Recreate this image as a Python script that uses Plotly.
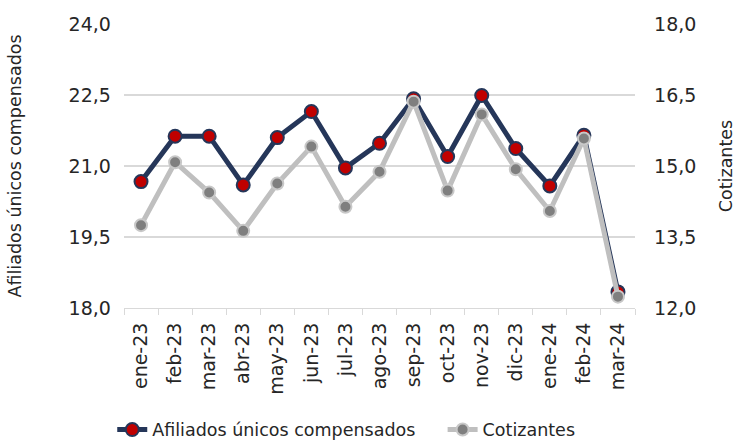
import plotly.graph_objects as go

meses = ['ene-23', 'feb-23', 'mar-23', 'abr-23', 'may-23', 'jun-23', 'jul-23', 'ago-23',
         'sep-23', 'oct-23', 'nov-23', 'dic-23', 'ene-24', 'feb-24', 'mar-24']
afiliados = [20.67, 21.63, 21.63, 20.60, 21.60, 22.15, 20.96, 21.48,
             22.42, 21.20, 22.49, 21.37, 20.58, 21.65, 18.34]
cotizantes = [13.75, 15.08, 14.44, 13.63, 14.63, 15.41, 14.14, 14.88,
              16.36, 14.48, 16.09, 14.93, 14.05, 15.58, 12.24]

font_fam = 'DejaVu Sans, Verdana, sans-serif'
gap = '\u00a0' * 4  # extra room between the two legend entries

fig = go.Figure()

fig.add_trace(go.Scatter(
    x=meses, y=afiliados,
    name='Afiliados únicos compensados' + gap,
    mode='lines+markers',
    line=dict(color='#253659', width=5),
    marker=dict(color='#c00000', size=13, line=dict(color='#253659', width=2)),
))

fig.add_trace(go.Scatter(
    x=meses, y=cotizantes,
    name='Cotizantes',
    mode='lines+markers',
    yaxis='y2',
    line=dict(color='#bfbfbf', width=5),
    marker=dict(color='#7f7f7f', size=12, line=dict(color='#c8c8c8', width=2)),
))

fig.update_layout(
    width=740,
    height=441,
    separators=',.',
    plot_bgcolor='white',
    paper_bgcolor='white',
    font=dict(family=font_fam, size=17, color='#262626'),
    margin=dict(l=124, r=105, t=24, b=133, autoexpand=False),
    showlegend=True,
    legend=dict(
        orientation='h',
        x=-0.023, xanchor='left',
        y=-0.365, yanchor='top',
        font=dict(size=17.5, color='#262626'),
        tracegroupgap=0,
    ),
    xaxis=dict(
        type='category',
        range=[-0.5, len(meses) - 0.5],
        tickangle=-90,
        showgrid=False,
        showline=True,
        linecolor='#d9d9d9',
        linewidth=1,
        ticks='outside',
        tickson='boundaries',
        ticklen=6,
        tickcolor='#d9d9d9',
        tickfont=dict(size=19),
        ticklabelstandoff=6,
        automargin=False,
    ),
    yaxis=dict(
        range=[18, 24],
        dtick=1.5,
        tick0=18,
        tickformat='.1f',
        showgrid=True,
        gridcolor='#d9d9d9',
        gridwidth=1.5,
        zeroline=False,
        title=dict(text='Afiliados únicos compensados', font=dict(size=17.5), standoff=42),
        tickfont=dict(size=19),
        ticksuffix='  ',
        automargin=False,
    ),
    yaxis2=dict(
        range=[12, 18],
        dtick=1.5,
        tick0=12,
        tickformat='.1f',
        overlaying='y',
        side='right',
        showgrid=False,
        zeroline=False,
        title=dict(text='Cotizantes', font=dict(size=17.5), standoff=24),
        tickfont=dict(size=19),
        tickprefix='   ',
        automargin=False,
    ),
)

# the page's default body margin would shift the figure by 8px
fig.write_html('out.html', config={'displayModeBar': False},
               post_script="document.body.style.margin='0';")
